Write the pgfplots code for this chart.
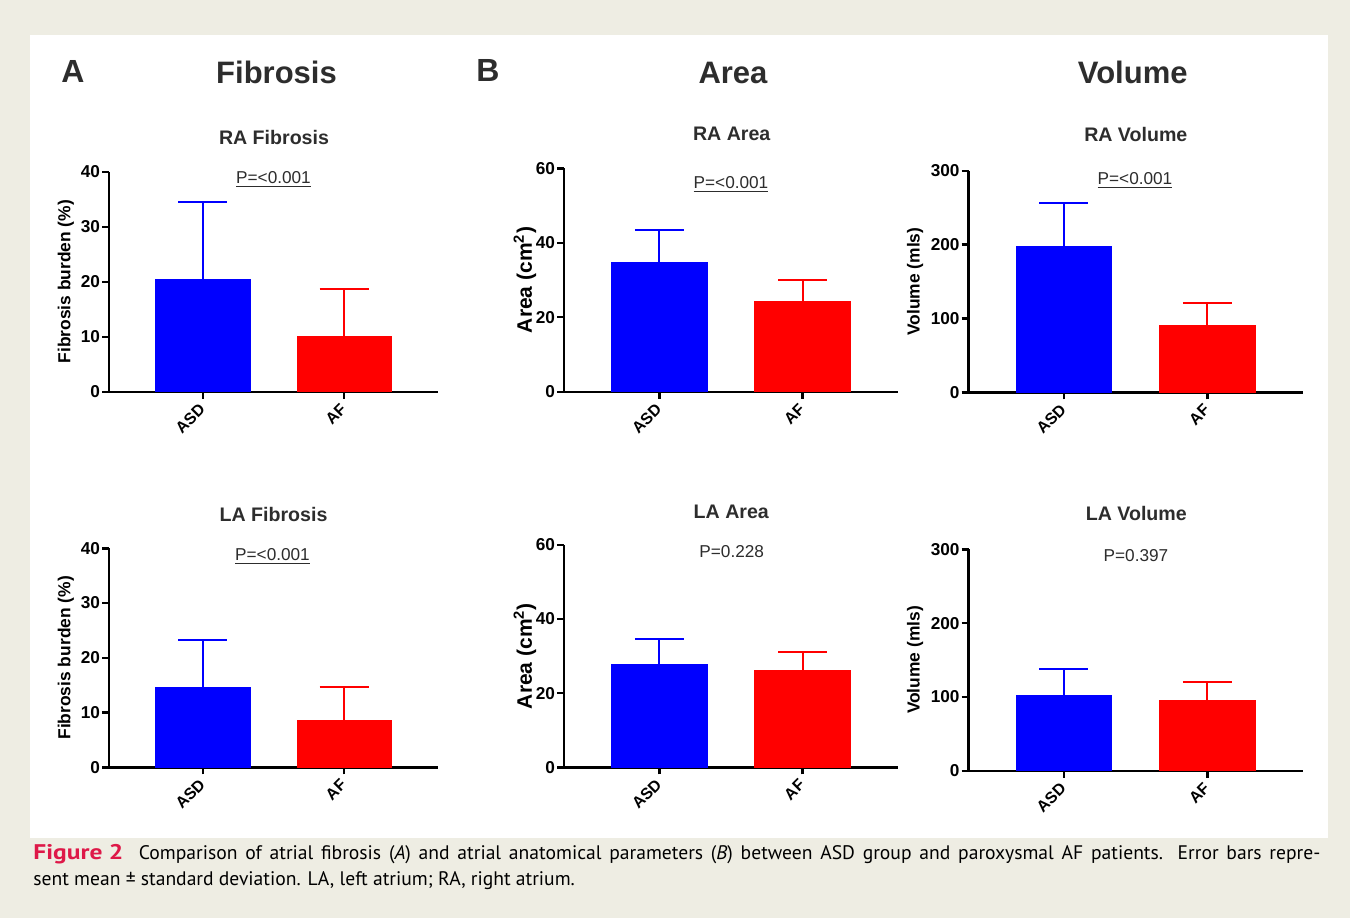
\documentclass[border=0pt]{standalone}
\usepackage{pgfplots}
\pgfplotsset{compat=1.18}
\usepackage{fontspec}
\setmainfont{Liberation Sans}
\newfontfamily\capfont{PT Sans}
\definecolor{beige}{RGB}{238,237,227}
\definecolor{figred}{RGB}{222,24,72}
\definecolor{tgray}{RGB}{45,45,45}
\definecolor{pblue}{RGB}{0,0,255}
\definecolor{pred}{RGB}{255,0,0}

\pgfplotsset{
  panel/.style={
    scale only axis, anchor=south west, clip=false,
    xmin=-0.665, xmax=1.665, ymin=0,
    axis x line=bottom, axis y line=left,
    axis line style={-, line width=1.2pt, black},
    every tick/.append style={black, line width=1.2pt},
    tick align=outside, major tick length=3.5pt,
    xtick={0,1}, xticklabels={ASD,AF},
    xticklabel style={rotate=45, anchor=east, yshift=-2.5pt, xshift=0.5pt, font=\bfseries\fontsize{8}{9}\selectfont},
    yticklabel style={inner sep=0.8pt, font=\bfseries\fontsize{8.6}{9}\selectfont},
    ylabel style={font=\bfseries\fontsize{8.7}{10}\selectfont, anchor=center},
    /pgf/number format/assume math mode=true,
    ybar, bar width=0.667,
  },
  bl/.style={fill=pblue, draw=pblue, bar shift=0pt,
    error bars/.cd, y dir=plus, y explicit,
    error bar style={line width=1pt, pblue},
    error mark options={rotate=90, mark size=12.25pt, line width=1pt, pblue}},
  rd/.style={fill=pred, draw=pred, bar shift=0pt,
    error bars/.cd, y dir=plus, y explicit,
    error bar style={line width=1pt, pred},
    error mark options={rotate=90, mark size=12.25pt, line width=1pt, pred}},
}

\begin{document}
\begin{tikzpicture}
\begin{scope}[x=0.5pt, y=-0.5pt]
\fill[beige] (0,0) rectangle (1350,918);
\fill[white] (30,35) rectangle (1328,838);
% headers
\node[anchor=base west, inner sep=0pt, text=tgray, font=\bfseries\fontsize{16}{18}\selectfont] at (61,82) {A};
\node[anchor=base west, inner sep=0pt, text=tgray, font=\bfseries\fontsize{16}{18}\selectfont] at (476,81) {B};
\node[anchor=base, inner sep=0pt, text=tgray, font=\bfseries\fontsize{15.5}{18}\selectfont] at (276.5,83.3) {Fibrosis};
\node[anchor=base, inner sep=0pt, text=tgray, font=\bfseries\fontsize{15.5}{18}\selectfont] at (733,83.3) {Area};
\node[anchor=base, inner sep=0pt, text=tgray, font=\bfseries\fontsize{15.5}{18}\selectfont] at (1132.7,83.3) {Volume};
% subtitles
\foreach \t/\x/\y in {RA Fibrosis/274/144.3, RA Area/731.7/140.7, RA Volume/1135.8/141.7, LA Fibrosis/273.5/521.7, LA Area/731.3/518.3, LA Volume/1136.3/520.7}
  \node[anchor=base, inner sep=0pt, text=tgray, font=\bfseries\fontsize{9.8}{11}\selectfont] at (\x,\y) {\t};
% p values
\node[anchor=base, inner sep=0pt, text=tgray, font=\fontsize{8.6}{10}\selectfont] at (273.5,183.5) {\underline{P=<0.001}};
\node[anchor=base, inner sep=0pt, text=tgray, font=\fontsize{8.6}{10}\selectfont] at (731,188) {\underline{P=<0.001}};
\node[anchor=base, inner sep=0pt, text=tgray, font=\fontsize{8.6}{10}\selectfont] at (1135,184) {\underline{P=<0.001}};
\node[anchor=base, inner sep=0pt, text=tgray, font=\fontsize{8.6}{10}\selectfont] at (272.5,560) {\underline{P=<0.001}};
\node[anchor=base, inner sep=0pt, text=tgray, font=\fontsize{8.6}{10}\selectfont] at (731.7,557.3) {P=0.228};
\node[anchor=base, inner sep=0pt, text=tgray, font=\fontsize{8.6}{10}\selectfont] at (1136,561.7) {P=0.397};
% caption
\node[anchor=base west, inner sep=0pt, font=\capfont\fontsize{9.8}{11}\selectfont] at (33,859.5) {\makebox[643.5pt][s]{\textcolor{figred}{\scalebox{1.3}[1.08]{\bfseries Figure 2}}\ \ Comparison of atrial fibrosis (\textit{A}) and atrial anatomical parameters (\textit{B}) between ASD group and paroxysmal AF patients. Error bars repre-}};
\node[anchor=base west, inner sep=0pt, font=\capfont\fontsize{9.8}{11}\selectfont] at (33,885.5) {sent mean ± standard deviation. LA, left atrium; RA, right atrium.};
\end{scope}

% RA Fibrosis
\begin{axis}[panel, at={(109*0.5pt,-391.7*0.5pt)}, width=164.5pt, height=110pt,
  ymax=40, ytick={0,10,20,30,40}, ylabel={Fibrosis burden (\%)},
  ylabel style={at={(axis description cs:-0.131,0.5)}}]
\addplot[bl] coordinates {(0,20.5) +- (0,14.0)};
\addplot[rd] coordinates {(1,10.0) +- (0,8.7)};
\end{axis}
% LA Fibrosis
\begin{axis}[panel, at={(109*0.5pt,-767.3*0.5pt)}, width=164.5pt, height=109.5pt,
  ymax=40, ytick={0,10,20,30,40}, ylabel={Fibrosis burden (\%)},
  ylabel style={at={(axis description cs:-0.131,0.5)}}]
\addplot[bl] coordinates {(0,14.6) +- (0,8.6)};
\addplot[rd] coordinates {(1,8.5) +- (0,6.1)};
\end{axis}
% RA Area
\begin{axis}[panel, at={(564*0.5pt,-391.7*0.5pt)}, width=167pt, height=111.7pt,
  ymax=60, ytick={0,20,40,60}, ylabel={Area (cm\textsuperscript{2})},
  ylabel style={at={(axis description cs:-0.117,0.5)}, font=\bfseries\fontsize{10.5}{12}\selectfont}]
\addplot[bl] coordinates {(0,34.7) +- (0,8.7)};
\addplot[rd] coordinates {(1,24.2) +- (0,5.8)};
\end{axis}
% LA Area
\begin{axis}[panel, at={(564*0.5pt,-767.3*0.5pt)}, width=167pt, height=111.2pt,
  ymax=60, ytick={0,20,40,60}, ylabel={Area (cm\textsuperscript{2})},
  ylabel style={at={(axis description cs:-0.117,0.5)}, font=\bfseries\fontsize{10.5}{12}\selectfont}]
\addplot[bl] coordinates {(0,27.9) +- (0,6.6)};
\addplot[rd] coordinates {(1,26.1) +- (0,4.9)};
\end{axis}
% RA Volume
\begin{axis}[panel, at={(968.5*0.5pt,-392.3*0.5pt)}, width=167.2pt, height=110.8pt,
  ymax=300, ytick={0,100,200,300}, ylabel={Volume (mls)},
  ylabel style={at={(axis description cs:-0.16,0.5)}}]
\addplot[bl] coordinates {(0,197.1) +- (0,59.6)};
\addplot[rd] coordinates {(1,90.2) +- (0,31.1)};
\end{axis}
% LA Volume
\begin{axis}[panel, at={(968.5*0.5pt,-770.7*0.5pt)}, width=167.2pt, height=110.7pt,
  ymax=300, ytick={0,100,200,300}, ylabel={Volume (mls)},
  ylabel style={at={(axis description cs:-0.16,0.5)}}]
\addplot[bl] coordinates {(0,102.6) +- (0,35.2)};
\addplot[rd] coordinates {(1,94.9) +- (0,25.7)};
\end{axis}
\end{tikzpicture}
\end{document}
